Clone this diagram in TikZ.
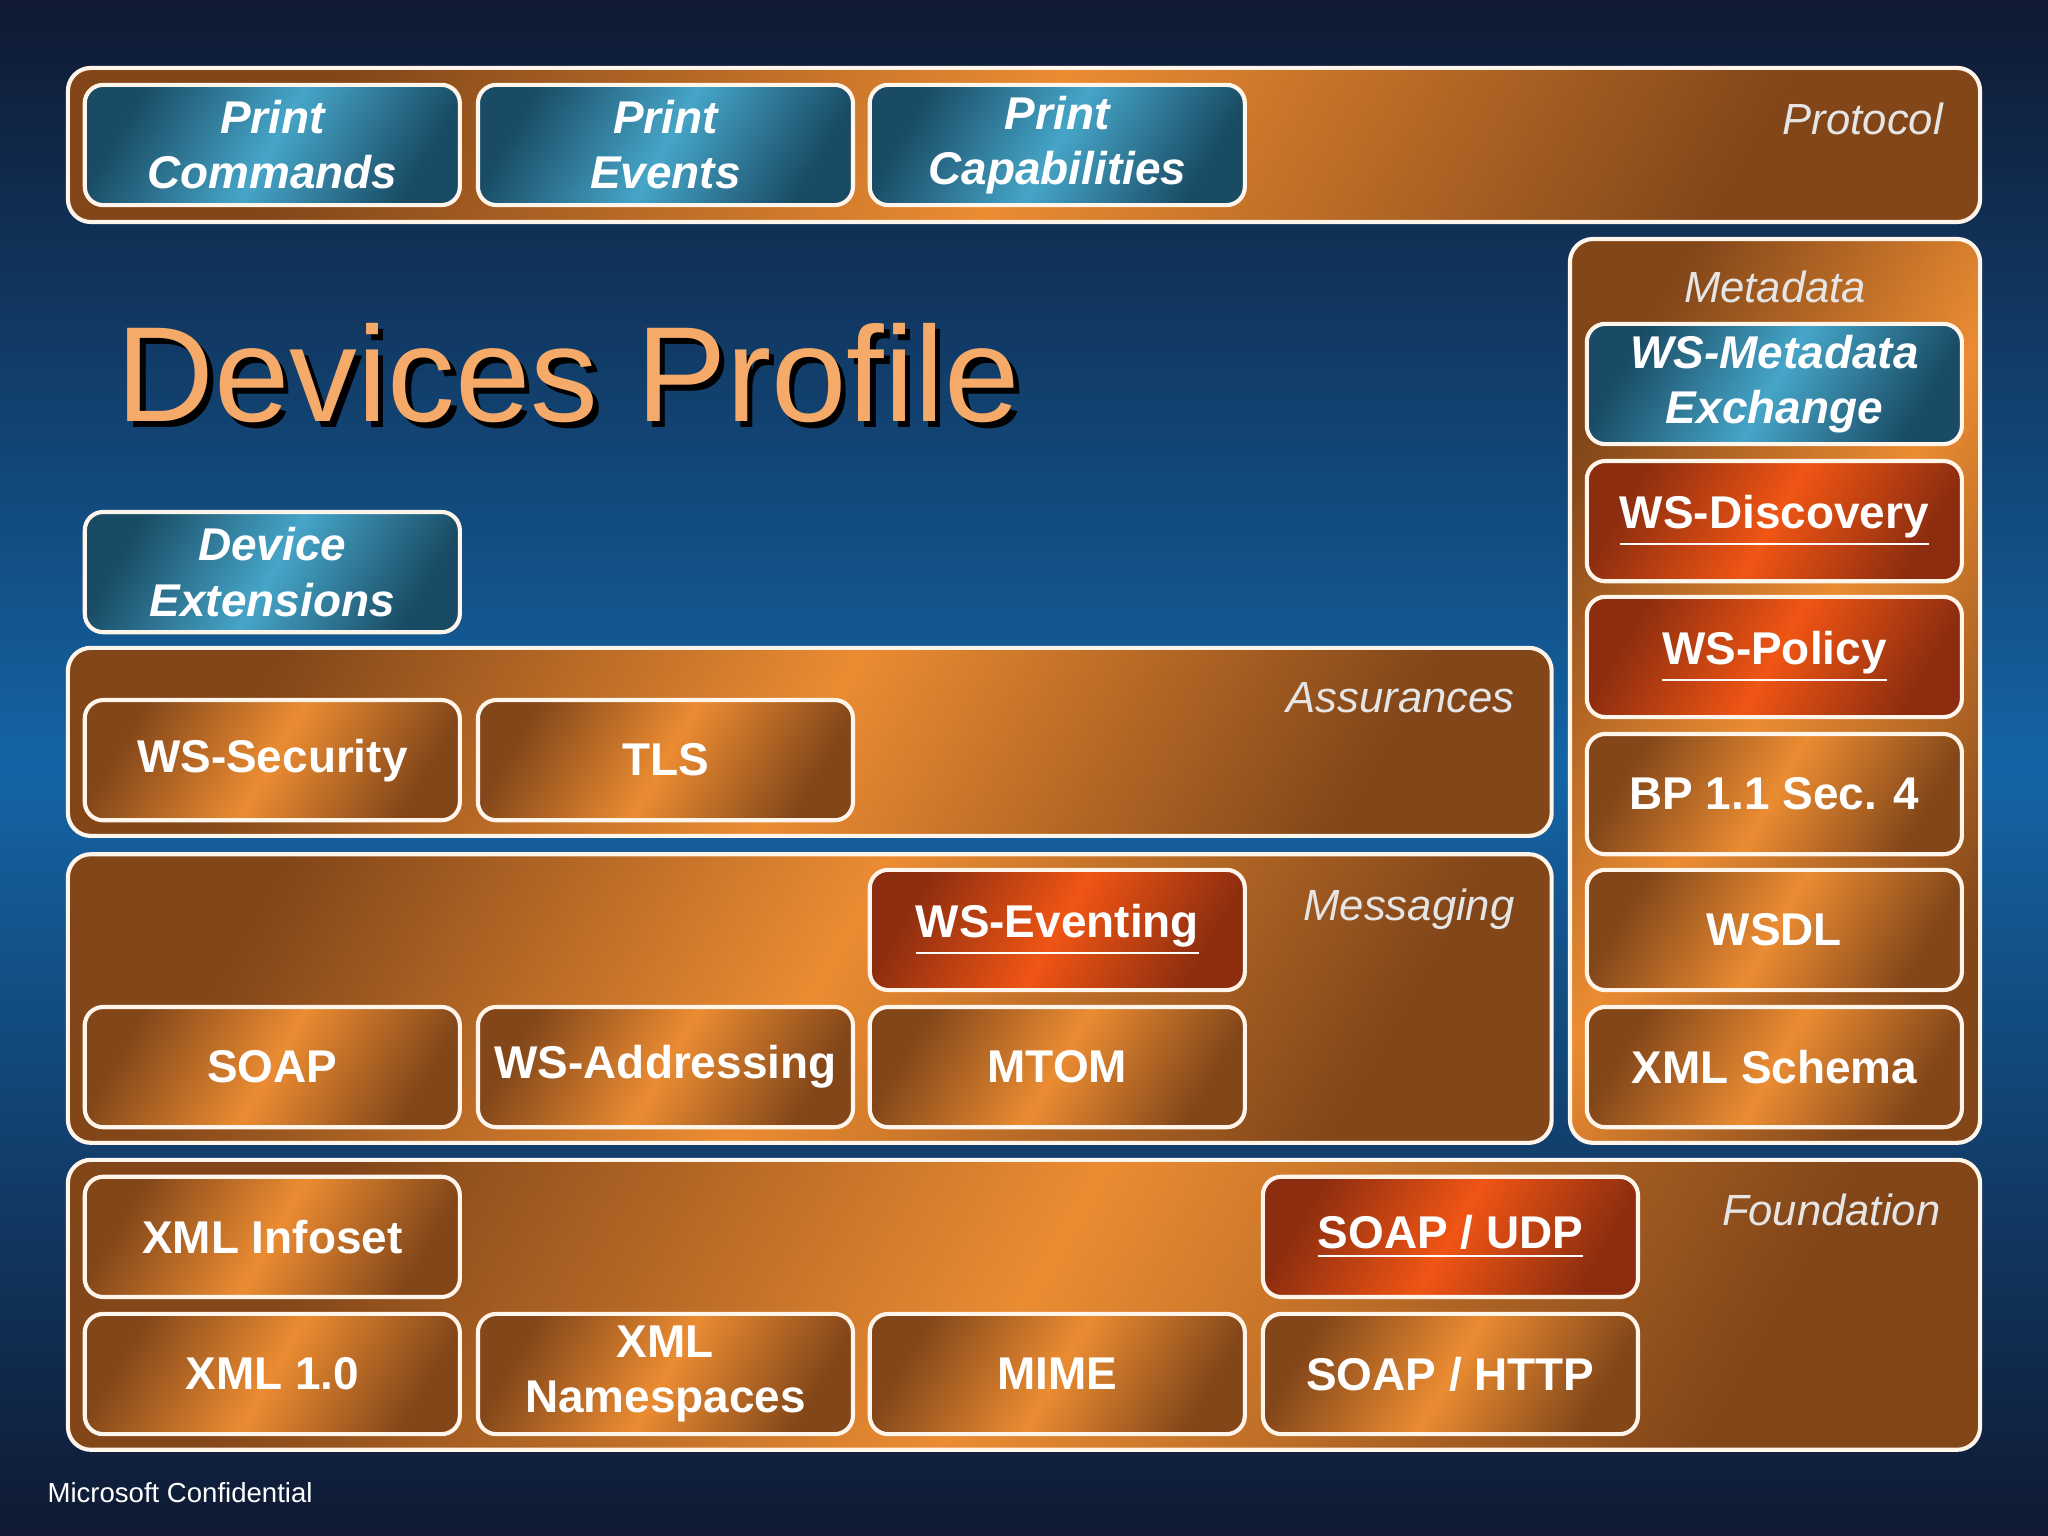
\documentclass[tikz,border=0pt]{standalone}
\usepackage{fontspec}
\setmainfont{Liberation Sans}
\definecolor{obrown}{RGB}{130,70,25}
\definecolor{omid}{RGB}{235,140,50}
\definecolor{tdark}{RGB}{25,75,100}
\definecolor{tmid}{RGB}{70,165,200}
\definecolor{rdark}{RGB}{140,45,15}
\definecolor{rmid}{RGB}{240,85,20}
\definecolor{bgdark}{RGB}{15,25,50}
\definecolor{bgmid}{RGB}{20,100,165}
\definecolor{titlec}{RGB}{245,170,105}
\begin{document}
\begin{tikzpicture}[x=0.01cm,y=-0.01cm,
 orangegrp/.style={draw=white!92!orange,line width=0.9pt,rounded corners=5pt,left color=obrown,right color=obrown,middle color=omid,shading angle=60},
 bx/.style={draw=white!92!orange,line width=0.9pt,rounded corners=4pt,minimum width=2.87cm,minimum height=0.92cm,inner sep=0pt,font=\bfseries\fontsize{10}{12}\selectfont,text=white,align=center},
 ob/.style={bx,left color=obrown,right color=obrown,middle color=omid,shading angle=60},
 tb/.style={bx,left color=tdark,right color=tdark,middle color=tmid,shading angle=60,font=\bfseries\itshape\fontsize{10}{12}\selectfont},
 rb/.style={bx,left color=rdark,right color=rdark,middle color=rmid,shading angle=60},
 lab/.style={text=white!80!gray,font=\itshape\fontsize{9.5}{12}\selectfont}]
\useasboundingbox (0,0) rectangle (1568,1176);
\fill[top color=bgdark,bottom color=bgdark,middle color=bgmid] (0,0) rectangle (1568,1176);
% groups
\draw[orangegrp] (52,52) rectangle (1516,170);
\node[lab,anchor=north east] (lp) at (1500,66) {Protocol};
\draw[orangegrp] (1202,183) rectangle (1516,875);
\node[lab] (lm) at (1359,220) {Metadata};
\draw[orangegrp] (52,496) rectangle (1188,640);
\node[lab,anchor=north east] (la) at (1172,510) {Assurances};
\draw[orangegrp] (52,654) rectangle (1188,875);
\node[lab,anchor=north east] (lms) at (1172,668) {Messaging};
\draw[orangegrp] (52,888) rectangle (1516,1110);
\node[lab,anchor=north east] (lf) at (1498,902) {Foundation};
\newcommand{\bxx}[5]{\node[#1] (#2) at ({#3+143.5},{#4+46}) {#5};}
\bxx{tb}{pc}{65}{65}{Print\\Commands}
\bxx{tb}{pe}{366}{65}{Print\\Events}
\bxx{tb}{pcap}{666}{65}{Print\\Capabilities}
\bxx{tb}{de}{65}{392}{Device\\Extensions}
\bxx{tb}{wme}{1215}{248}{WS-Metadata\\Exchange}
\bxx{rb}{wd}{1215}{353}{\underline{WS-Discovery}}
\bxx{rb}{wp}{1215}{457}{\underline{WS-Policy}}
\bxx{ob}{bp}{1215}{562}{BP 1.1 Sec. 4}
\bxx{ob}{wsdl}{1215}{666}{WSDL}
\bxx{ob}{xs}{1215}{771}{XML Schema}
\bxx{ob}{wss}{65}{536}{WS-Security}
\bxx{ob}{tls}{366}{536}{TLS}
\bxx{rb}{we}{666}{666}{\underline{WS-Eventing}}
\bxx{ob}{soap}{65}{771}{SOAP}
\bxx{ob}{wsa}{366}{771}{WS-Addressing}
\bxx{ob}{mtom}{666}{771}{MTOM}
\bxx{ob}{xi}{65}{901}{XML Infoset}
\bxx{rb}{su}{967}{901}{\underline{SOAP / UDP}}
\bxx{ob}{x10}{65}{1006}{XML 1.0}
\bxx{ob}{xn}{366}{1006}{XML\\Namespaces}
\bxx{ob}{mime}{666}{1006}{MIME}
\bxx{ob}{sh}{967}{1006}{SOAP / HTTP}
% title
\node[anchor=west,text=black,font=\fontsize{29.5}{34}\selectfont] (tsh) at (81,290) {Devices Profile};
\node[anchor=west,text=titlec,font=\fontsize{29.5}{34}\selectfont] (t) at (77,286) {Devices Profile};
\node[anchor=west,text=white,font=\fontsize{6}{7}\selectfont] (mc) at (24,1143) {Microsoft Confidential};
\end{tikzpicture}
\end{document}
